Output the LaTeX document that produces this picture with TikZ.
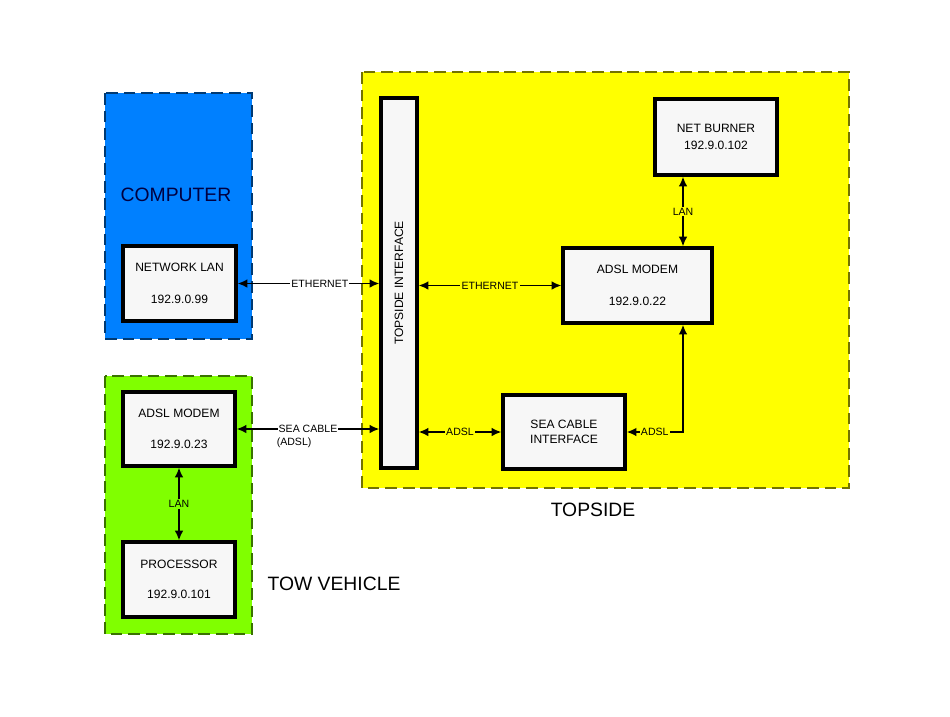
\documentclass[tikz,border=0pt]{standalone}
\usepackage{fontspec}
\setmainfont{Liberation Sans}
\usepackage{tikz}
\usetikzlibrary{arrows.meta,positioning}
\definecolor{pcblue}{RGB}{0,128,255}
\definecolor{towgreen}{RGB}{128,255,0}
\definecolor{topyellow}{RGB}{255,255,0}
\tikzset{
  unitbox/.style={draw=black, line width=2.6pt, fill=gray!6, align=center,
    font=\fontsize{10.3}{12}\selectfont, inner sep=2pt},
  region/.style={line width=1.2pt, dash pattern=on 10pt off 5pt},
  lbl/.style={font=\fontsize{9}{10}\selectfont, inner sep=1pt},
  link/.style={line width=1.6pt, {Latex[length=8.5pt,width=7.5pt]}-{Latex[length=8.5pt,width=7.5pt]}},
  title/.style={font=\fontsize{16.5}{19}\selectfont}
}
\begin{document}
\begin{tikzpicture}[x=0.03cm,y=-0.03cm]
\useasboundingbox (0,0) rectangle (950,716);
% regions
\fill[pcblue] (105,93) rectangle (252,339);
\draw[region, draw=pcblue!45!black] (105,93) rectangle (252,339);
\fill[towgreen] (105,376) rectangle (252,634);
\draw[region, draw=towgreen!45!black] (105,376) rectangle (252,634);
\fill[topyellow] (362,72) rectangle (849,488);
\draw[region, draw=topyellow!45!black] (362,72) rectangle (849,488);
\node[title, text=blue!25!black] (comp) at (176,195) {COMPUTER};
\node[title] (tow) at (334,584) {TOW VEHICLE};
\node[title] (top) at (593,510) {TOPSIDE};
% units
\node[unitbox, minimum width=3.39cm, minimum height=2.25cm] (netlan) at (179.5,283.5) {NETWORK LAN\\[15pt]192.9.0.99};
\node[unitbox, minimum width=3.36cm, minimum height=2.22cm] (towmodem) at (179,429) {ADSL MODEM\\[15pt]192.9.0.23};
\node[unitbox, minimum width=3.36cm, minimum height=2.25cm] (proc) at (179,579.5) {PROCESSOR\\[14pt]192.9.0.101};
\node[unitbox, minimum width=1.08cm, minimum height=11.1cm] (topif) at (399,283) {\rotatebox{90}{TOPSIDE INTERFACE}};
\node[unitbox, minimum width=3.66cm, minimum height=2.28cm] (netburner) at (716,137) {NET BURNER\\[2.5pt]192.9.0.102};
\node[unitbox, minimum width=4.47cm, minimum height=2.25cm] (topmodem) at (637.5,285.5) {ADSL MODEM\\[15pt]192.9.0.22};
\node[unitbox, minimum width=3.66cm, minimum height=2.22cm] (seaif) at (564,432) {SEA CABLE\\[1pt]INTERFACE};
\coordinate (lanx) at (683,0);
% links
\draw[link] (netlan.east) -- node[lbl, fill=white, pos=0.58] {ETHERNET} (netlan.east -| topif.west);
\draw[link] (towmodem.east) -- node[lbl, fill=white] (sealab) {SEA CABLE} (towmodem.east -| topif.west);
\node[lbl, anchor=north west, inner sep=0pt] (sealab2) at ([yshift=-2.5pt]sealab.south west) {(ADSL)};
\draw[link] (topif.east |- topmodem.west) -- node[lbl, fill=topyellow] {ETHERNET} (topmodem.west);
\draw[link] (topif.east |- seaif.west) -- node[lbl, fill=topyellow] {ADSL} (seaif.west);
\draw[link] (lanx |- netburner.south) -- node[lbl, fill=topyellow] {LAN} (lanx |- topmodem.north);
\draw[link] (towmodem.south) -- node[lbl, fill=towgreen] {LAN} (proc.north);
\draw[link, line width=2.4pt] (seaif.east) -| node[lbl, fill=topyellow, pos=0.25] {ADSL} (lanx |- topmodem.south);
\end{tikzpicture}
\end{document}
